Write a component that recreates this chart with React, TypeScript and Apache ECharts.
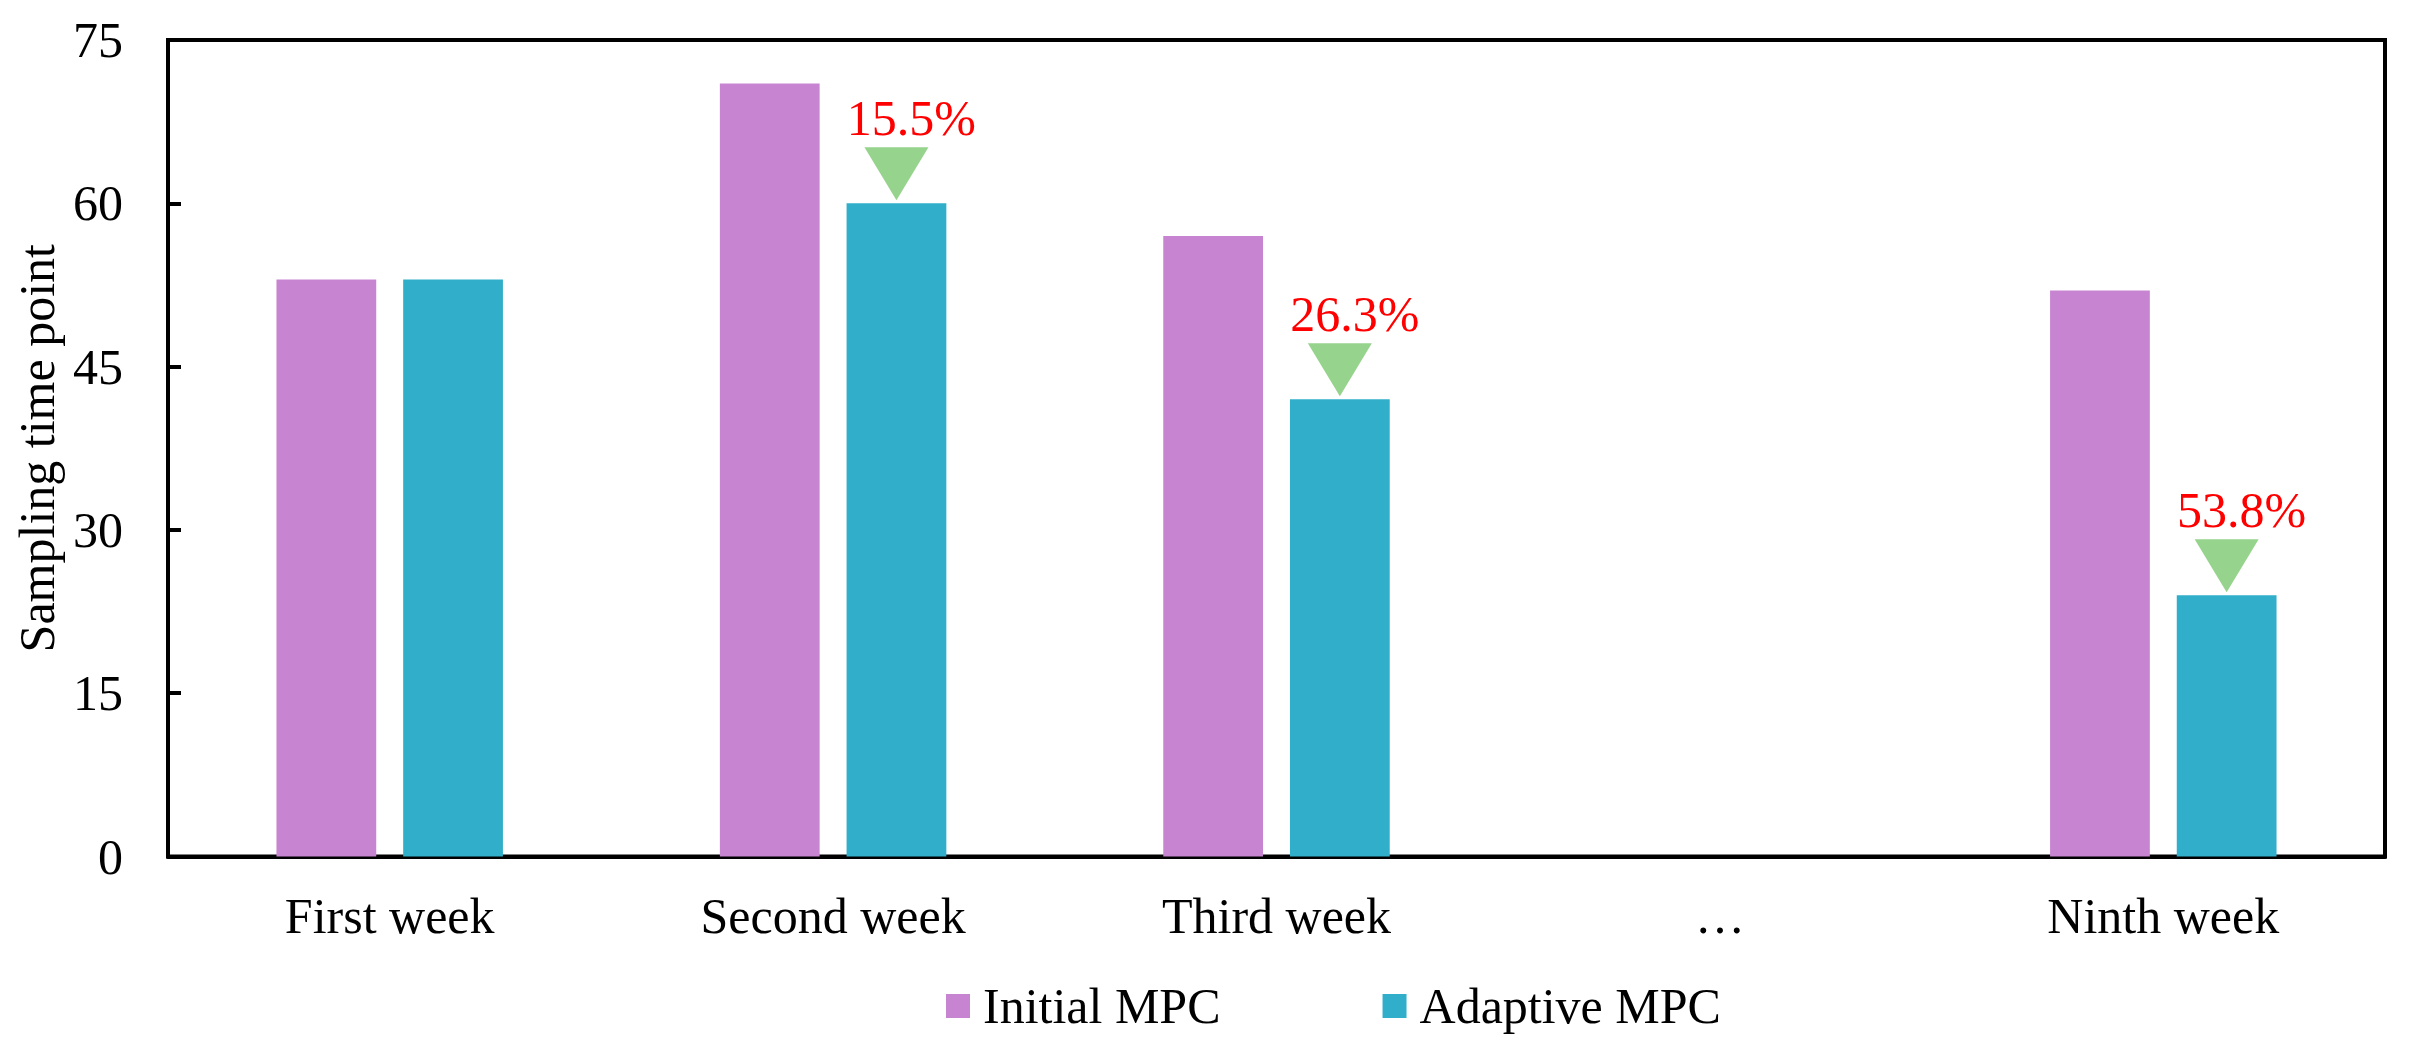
import React, { useEffect, useRef } from "react";
import * as echarts from "echarts";

const categories = ["First week", "Second week", "Third week", "…", "Ninth week"];
const initialMPC: (number | null)[] = [53, 71, 57, null, 52];
const adaptiveMPC: (number | null)[] = [53, 60, 42, null, 24];
const reductionLabels = ["", "15.5%", "26.3%", "", "53.8%"];
const yMin = 0;
const yMax = 75;
const yInterval = 15;

const FONT = "'Liberation Serif', 'Times New Roman', serif";

export default function App() {
  const ref = useRef<HTMLDivElement>(null);
  useEffect(() => {
    if (!ref.current) return;
    const chart = echarts.init(ref.current, undefined, { renderer: "svg" });
    const markData = reductionLabels
      .map((lab, i) => ({ lab, i }))
      .filter((d) => d.lab !== "" && adaptiveMPC[d.i] != null)
      .map((d) => ({ name: d.lab, coord: [d.i, adaptiveMPC[d.i] as number] }));
    chart.setOption({
      animation: false,
      backgroundColor: "#ffffff",
      textStyle: { fontFamily: FONT },
      grid: {
        left: 168,
        right: 31,
        top: 40,
        bottom: 189.5,
        show: true,
        borderColor: "#000",
        borderWidth: 4,
        backgroundColor: "transparent",
      },
      legend: {
        left: 941,
        top: 976,
        itemWidth: 24,
        itemHeight: 24,
        itemGap: 162,
        icon: "rect",
        textStyle: { fontFamily: FONT, fontSize: 50, color: "#000", padding: [0, 0, 0, 8] },
        data: ["Initial MPC", "Adaptive MPC"],
      },
      xAxis: {
        type: "category",
        data: categories,
        axisLine: { show: true, lineStyle: { color: "#000", width: 4 } },
        axisTick: { show: false },
        axisLabel: { fontFamily: FONT, fontSize: 50, color: "#000", margin: 34 },
        splitLine: { show: false },
      },
      yAxis: {
        type: "value",
        min: yMin,
        max: yMax,
        interval: yInterval,
        name: "Sampling time point",
        nameLocation: "middle",
        nameGap: 101,
        nameTextStyle: { fontFamily: FONT, fontSize: 50, color: "#000" },
        axisLine: { show: true, lineStyle: { color: "#000", width: 4 } },
        axisTick: { show: true, inside: true, length: 13, lineStyle: { color: "#000", width: 4 } },
        axisLabel: { fontFamily: FONT, fontSize: 50, color: "#000", margin: 45 },
        splitLine: { show: false },
      },
      series: [
        {
          name: "Initial MPC",
          type: "bar",
          data: initialMPC,
          barWidth: "22.5%",
          barGap: "27%",
          itemStyle: { color: "#C784D1" },
        },
        {
          name: "Adaptive MPC",
          type: "bar",
          data: adaptiveMPC,
          barWidth: "22.5%",
          barGap: "27%",
          itemStyle: { color: "#31AFCA" },
          markPoint: {
            symbol: "path://M0 0L64 0L32 53Z",
            symbolSize: [64, 53],
            symbolOffset: [0, -29.5],
            itemStyle: { color: "#96D38C" },
            label: {
              show: true,
              position: "top",
              distance: 4,
              offset: [15, 0],
              formatter: "{b}",
              fontFamily: FONT,
              fontSize: 50,
              color: "#FF0000",
            },
            data: markData,
          },
        },
      ],
    });
    return () => chart.dispose();
  }, []);
  return (
    <div
      ref={ref}
      style={{ position: "absolute", left: 0, top: 0, width: 2416, height: 1046 }}
    />
  );
}
